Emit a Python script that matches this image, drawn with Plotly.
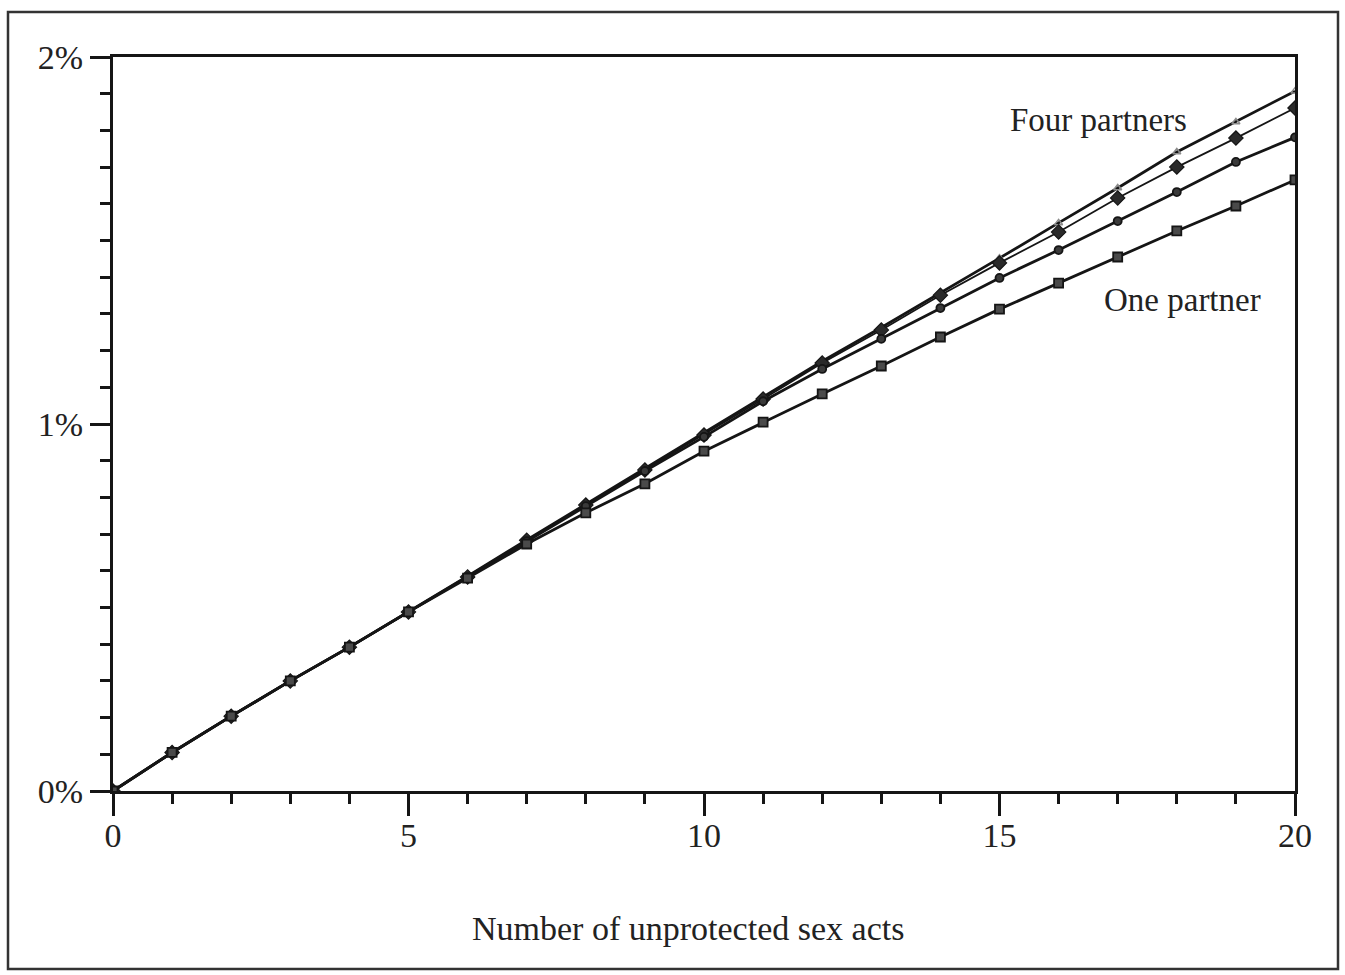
import plotly.graph_objects as go

acts = list(range(0, 21))

one_partner = [0.0, 0.105, 0.204, 0.300, 0.392, 0.488, 0.580, 0.673, 0.758, 0.837,
               0.926, 1.005, 1.082, 1.158, 1.237, 1.313, 1.384, 1.455, 1.526, 1.594, 1.665]
two_partners = [0.0, 0.105, 0.204, 0.300, 0.392, 0.488, 0.583, 0.681, 0.776, 0.872,
                0.965, 1.062, 1.150, 1.232, 1.316, 1.398, 1.474, 1.553, 1.632, 1.714, 1.781]
three_partners = [0.0, 0.105, 0.204, 0.300, 0.392, 0.488, 0.583, 0.683, 0.779, 0.875,
                  0.970, 1.068, 1.166, 1.256, 1.351, 1.439, 1.523, 1.616, 1.700, 1.779, 1.861]
four_partners = [0.0, 0.105, 0.204, 0.300, 0.392, 0.488, 0.585, 0.684, 0.781, 0.877,
                 0.976, 1.074, 1.171, 1.263, 1.357, 1.452, 1.548, 1.643, 1.741, 1.823, 1.907]

y_ticks = [0, 1, 2]
y_tick_labels = ["0%", "1%", "2%"]
x_ticks = [0, 5, 10, 15, 20]
x_title = "Number of unprotected sex acts"

FONT = "Liberation Serif, Times New Roman, serif"
INK = "#151515"

fig = go.Figure()

fig.add_trace(go.Scatter(
    x=acts, y=four_partners, mode="lines+markers", name="Four partners",
    line=dict(color=INK, width=2.8),
    marker=dict(symbol="triangle-up-open", size=7, color="#8a8a8a", line=dict(width=1.5, color="#8a8a8a")),
))
fig.add_trace(go.Scatter(
    x=acts, y=three_partners, mode="lines+markers", name="Three partners",
    line=dict(color=INK, width=1.8),
    marker=dict(symbol="diamond", size=11, color="#2a2a2a", line=dict(width=1.2, color=INK)),
))
fig.add_trace(go.Scatter(
    x=acts, y=two_partners, mode="lines+markers", name="Two partners",
    line=dict(color=INK, width=2.8),
    marker=dict(symbol="circle", size=8, color="#3a3a3a", line=dict(width=1.8, color=INK)),
))
fig.add_trace(go.Scatter(
    x=acts, y=one_partner, mode="lines+markers", name="One partner",
    line=dict(color=INK, width=2.8),
    marker=dict(symbol="square", size=9, color="#4a4a4a", line=dict(width=1.8, color=INK)),
))

fig.add_annotation(x=16.67, y=1.828, text="Four partners", showarrow=False,
                   font=dict(family=FONT, size=33, color="#222"))
fig.add_annotation(x=18.1, y=1.338, text="One partner", showarrow=False,
                   font=dict(family=FONT, size=33, color="#222"))

W_PLOT = 1295 - 113
H_PLOT = 791 - 57

# x-axis title (slightly left of plot centre, as in the original)
fig.add_annotation(xref="paper", yref="paper",
                   x=(688 - 113) / W_PLOT, y=(791 - 928) / H_PLOT,
                   xanchor="center", yanchor="middle",
                   text=x_title, showarrow=False,
                   font=dict(family=FONT, size=34, color="#222"))

# outer frame
fig.add_shape(type="rect", xref="paper", yref="paper",
              x0=(8 - 113) / W_PLOT, x1=(1338 - 113) / W_PLOT,
              y0=(791 - 969) / H_PLOT, y1=(791 - 12) / H_PLOT,
              line=dict(color="#333", width=2.5), fillcolor="rgba(0,0,0,0)", layer="below")

fig.update_layout(
    width=1345, height=975,
    margin=dict(l=113, r=50, t=57, b=184),
    paper_bgcolor="white", plot_bgcolor="white",
    showlegend=False,
    font=dict(family=FONT, size=34, color="#222"),
)

fig.update_xaxes(
    range=[0, 20], tickvals=x_ticks, ticktext=[str(v) for v in x_ticks],
    showgrid=False, zeroline=False,
    showline=True, linecolor=INK, linewidth=3, mirror=True,
    ticks="outside", ticklen=22, tickwidth=2.5, tickcolor=INK,
    minor=dict(dtick=1, ticks="outside", ticklen=10, tickwidth=2.5, tickcolor=INK, showgrid=False),
    tickfont=dict(family=FONT, size=34, color="#222"),
    ticklabelstandoff=-10,
)
fig.update_yaxes(
    range=[0, 2], tickvals=y_ticks, ticktext=y_tick_labels,
    showgrid=False, zeroline=False,
    showline=True, linecolor=INK, linewidth=3, mirror=True,
    ticks="outside", ticklen=20, tickwidth=2.5, tickcolor=INK,
    minor=dict(dtick=0.1, ticks="outside", ticklen=10, tickwidth=2.5, tickcolor=INK, showgrid=False),
    tickfont=dict(family=FONT, size=34, color="#222"),
)

fig.write_html("out.html", config={"displayModeBar": False},
               post_script="document.body.style.margin='0';document.body.style.overflow='hidden';")
